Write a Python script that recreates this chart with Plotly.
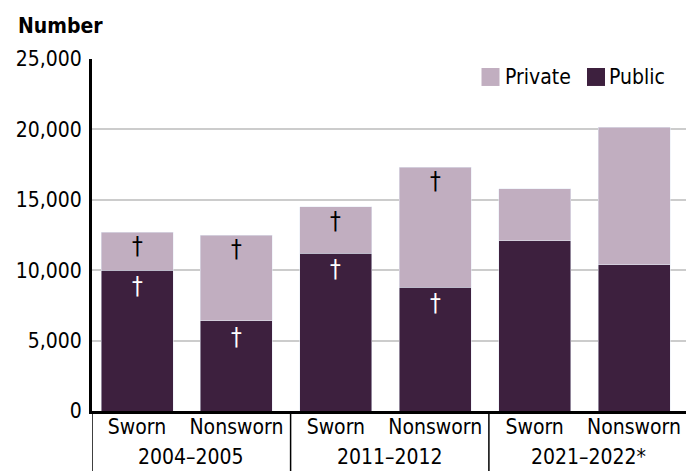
import plotly.graph_objects as go

# ---- data ----
periods = ["2004–2005", "2011–2012", "2021–2022*"]
categories = ["Sworn", "Nonsworn", "Sworn", "Nonsworn", "Sworn", "Nonsworn"]
public_vals = [10000, 6400, 11200, 8800, 12100, 10400]
total_vals = [12700, 12500, 14500, 17300, 15800, 20150]
private_vals = [t - p for t, p in zip(total_vals, public_vals)]
dagger_private = [True, True, True, True, False, False]
dagger_public = [True, True, True, True, False, False]
y_ticks = [0, 5000, 10000, 15000, 20000, 25000]
y_ticktext = ["0", "5,000", "10,000", "15,000", "20,000", "25,000"]

PUBLIC_C = "#3d203e"
PRIVATE_C = "#c1aec0"
FONT = "Liberation Sans Narrow, DejaVu Sans Condensed, DejaVu Sans, sans-serif"
FS = 21

# page body has an 8px default margin; size the figure to fit the 694x471 window
OFF = 8
FW, FH = 694 - OFF, 471 - OFF
L, R, T, B = 92 - OFF, 694 - 688, 58.5 - OFF, 471 - 411
W = FW - L - R
H = FH - T - B


def px_x(px):
    return (px - OFF - L) / W


def px_y(py):
    return (FH - B - (py - OFF)) / H


xs = list(range(len(categories)))

fig = go.Figure()
fig.add_trace(go.Bar(x=xs, y=public_vals, name="Public", marker_color=PUBLIC_C,
                     width=0.724, showlegend=False))
fig.add_trace(go.Bar(x=xs, y=private_vals, name="Private", marker_color=PRIVATE_C,
                     width=0.724, showlegend=False))

annotations = []
for i in xs:
    if dagger_private[i]:
        annotations.append(dict(x=i, y=total_vals[i], xref="x", yref="y", text="†",
                                showarrow=False, yanchor="top", yshift=2,
                                font=dict(family=FONT, size=24, color="black")))
    if dagger_public[i]:
        annotations.append(dict(x=i, y=public_vals[i], xref="x", yref="y", text="†",
                                showarrow=False, yanchor="top", yshift=0,
                                font=dict(family=FONT, size=24, color="white")))

x0, x1 = -0.453, 5.543
bounds = [x0, 1.545, 3.54, x1]
for g, label in enumerate(periods):
    annotations.append(dict(x=(bounds[g] + bounds[g + 1]) / 2, y=px_y(457), xref="x", yref="paper",
                            text=label, showarrow=False, yanchor="middle",
                            font=dict(family=FONT, size=FS, color="black")))

annotations.append(dict(x=px_x(16), y=px_y(25), xref="paper", yref="paper",
                        text="<b>Number</b>", showarrow=False, xanchor="left", yanchor="middle",
                        font=dict(family=FONT, size=FS, color="black")))

shapes = []
for b in bounds:
    shapes.append(dict(type="line", xref="x", yref="paper", x0=b, x1=b, y0=0, y1=px_y(480),
                       line=dict(color="black", width=1.5)))

# manual legend
leg = [("Private", PRIVATE_C, 481.5, 503), ("Public", PUBLIC_C, 587, 607)]
for name, col, sx, tx in leg:
    shapes.append(dict(type="rect", xref="paper", yref="paper",
                       x0=px_x(sx), x1=px_x(sx + 18), y0=px_y(85.5), y1=px_y(67.5),
                       fillcolor=col, line=dict(width=0)))
    annotations.append(dict(x=px_x(tx), y=px_y(76.5), xref="paper", yref="paper",
                            text=name, showarrow=False, xanchor="left", yanchor="middle",
                            font=dict(family=FONT, size=FS, color="black")))

fig.update_layout(
    width=FW, height=FH,
    margin=dict(l=L, r=R, t=T, b=B, autoexpand=False),
    plot_bgcolor="white", paper_bgcolor="white",
    barmode="stack",
    font=dict(family=FONT, size=FS, color="black"),
    xaxis=dict(range=[x0, x1], tickvals=xs, ticktext=categories, showgrid=False,
               showline=True, linecolor="black", linewidth=2.5, ticks="",
               tickfont=dict(size=FS), zeroline=False, automargin=False,
               ticklabelstandoff=-5),
    yaxis=dict(range=[0, 25000], tickvals=y_ticks, ticktext=y_ticktext, showgrid=True,
               gridcolor="#cccccc", gridwidth=1.5, showline=True, linecolor="black",
               linewidth=3, ticks="", zeroline=False, ticklabelstandoff=3,
               tickfont=dict(size=FS), automargin=False),
    annotations=annotations,
    shapes=shapes,
    showlegend=False,
)

fig.write_html("out.html")
